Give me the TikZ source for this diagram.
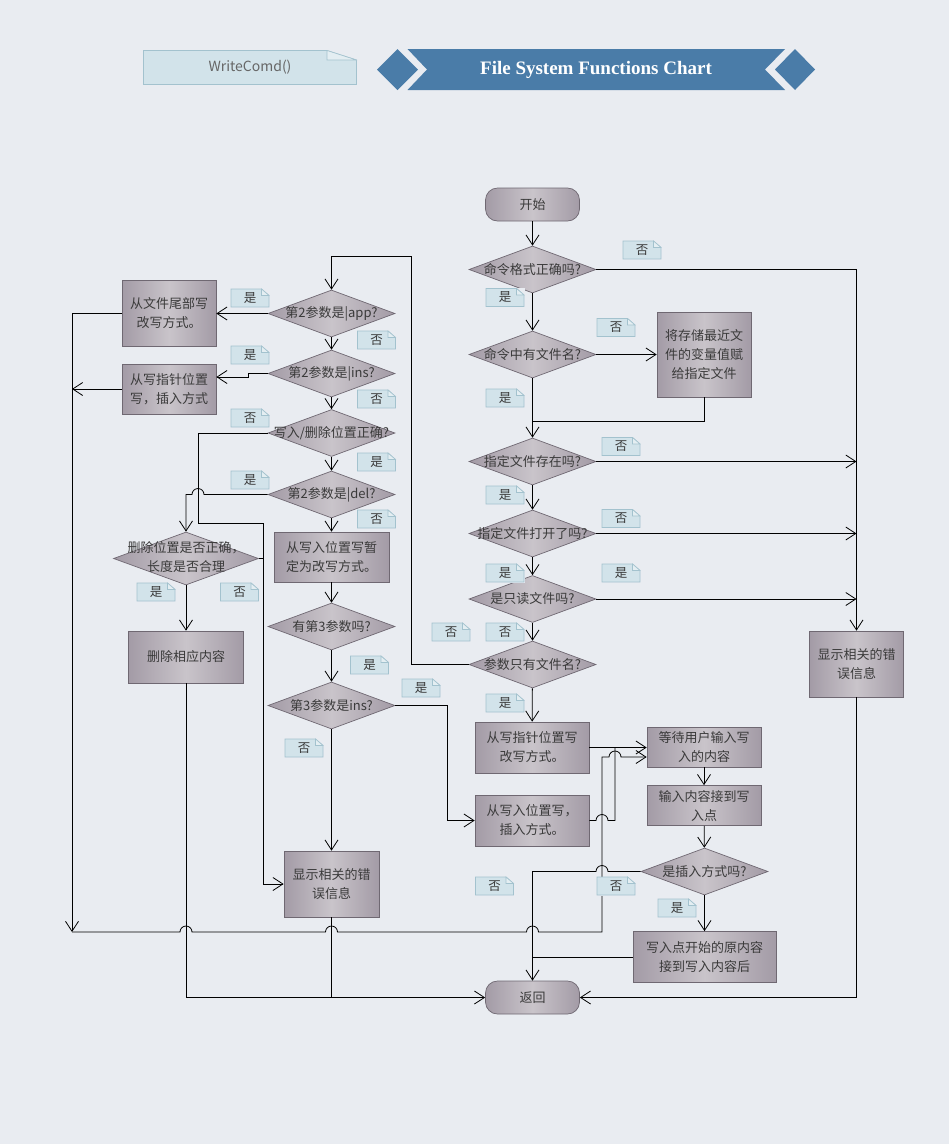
\documentclass[tikz,border=0pt]{standalone}
\usepackage{fontspec}
\setmainfont{Liberation Serif}
\newfontfamily\cjk{Noto Sans CJK SC}
\usetikzlibrary{shapes.geometric,arrows.meta,calc,positioning}

\definecolor{bg}{HTML}{E9ECF1}
\definecolor{boxedge}{HTML}{A39BA6}
\definecolor{boxmid}{HTML}{C9C4CA}
\definecolor{boxline}{HTML}{6F6872}
\definecolor{tagfill}{HTML}{D2E3EA}
\definecolor{tagfold}{HTML}{E4EEF2}
\definecolor{tagline}{HTML}{A3C2CE}
\definecolor{banner}{HTML}{4A7CA8}
\definecolor{txt}{HTML}{3A3A3A}

\newcommand{\dtext}[1]{\makebox[0pt]{#1}}
% bridges where a line jumps over another one
\newcommand{\jumpr}[2]{-- (#1-6,#2) arc[start angle=180,end angle=360,radius=6]}
\newcommand{\jumpl}[2]{-- (#1+6,#2) arc[start angle=0,end angle=-180,radius=6]}

\tikzset{
  box/.style={draw=boxline, line width=0.7pt, left color=boxedge, right color=boxedge, middle color=boxmid,
    text=txt, font=\cjk\fontsize{13}{19}\selectfont, align=center, inner sep=0pt},
  proc/.style={box, rectangle, minimum width=94pt, minimum height=66pt},
  term/.style={box, rounded corners=12pt, minimum width=94pt, minimum height=33pt},
  dec/.style={box, diamond, minimum width=127pt, minimum height=47pt},
  note/.style 2 args={fill=bg, inner sep=0pt, text=txt, font=\cjk\fontsize{12.5}{14}\selectfont,
    path picture={
      \path[fill=tagfill, draw=tagline, line width=0.8pt]
        ([xshift=0.5pt,yshift=0.5pt]path picture bounding box.south west)
        -- ([xshift=0.5pt,yshift=-0.5pt]path picture bounding box.north west)
        -- ([xshift=-#1,yshift=-0.5pt]path picture bounding box.north east)
        -- ([xshift=-0.5pt,yshift=-#2]path picture bounding box.north east)
        -- ([xshift=-0.5pt,yshift=0.5pt]path picture bounding box.south east) -- cycle;
      \path[fill=tagfold, draw=tagline, line width=0.6pt]
        ([xshift=-#1,yshift=-0.5pt]path picture bounding box.north east)
        -- ([xshift=-#1,yshift=-#2]path picture bounding box.north east)
        -- ([xshift=-0.5pt,yshift=-#2]path picture bounding box.north east) -- cycle;
    }},
  tag/.style={note={8pt}{7pt}, minimum width=39pt, minimum height=19pt},
  arr/.style={-{Straight Barb[length=10pt,width=13pt]}},
}

\begin{document}
\begin{tikzpicture}[x=1pt,y=-1pt,line width=0.8pt]
\fill[bg] (0,0) rectangle (949,1144);
\useasboundingbox (0,0) rectangle (949,1144);

% title
\node[note={30pt}{10pt}, minimum width=214pt, minimum height=35pt, text=black!60,
  font=\cjk\fontsize{14}{16}\selectfont] (fn) at (250,67.5) {WriteComd()};
\fill[banner] (377,69.5) -- (397.5,49) -- (418,69.5) -- (397.5,90) -- cycle;
\fill[banner] (407.5,49) -- (785,49) -- (765,69.5) -- (785,90) -- (407.5,90) -- (427,69.5) -- cycle;
\fill[banner] (775,69.5) -- (795,49) -- (815,69.5) -- (795,90) -- cycle;
\node[text=white, font=\bfseries\fontsize{19}{22}\selectfont] (title) at (596,70) {File System Functions Chart};

% right column
\node[term] (start) at (532.5,204.5) {开始};
\node[dec] (d1) at (532.5,269.5) {\dtext{命令格式正确吗?}};
\node[dec] (d2) at (532.5,354.5) {\dtext{命令中有文件名?}};
\node[proc, minimum height=85pt] (b1) at (704,354.5) {将存储最近文\\件的变量值赋\\给指定文件};
\node[dec] (d3) at (532.5,461.5) {\dtext{指定文件存在吗?}};
\node[dec] (d4) at (532.5,533.5) {\dtext{指定文件打开了吗?}};
\node[dec] (d5) at (532.5,599) {\dtext{是只读文件吗?}};
\node[dec] (d6) at (532.5,664.5) {\dtext{参数只有文件名?}};
\node[proc, minimum width=114pt, minimum height=51pt] (b2) at (532,747.5) {从写指针位置写\\改写方式。};
\node[proc, minimum width=114pt, minimum height=51pt] (b3) at (532,820.5) {从写入位置写，\\插入方式。};
\node[proc, minimum width=114pt, minimum height=40pt] (b4) at (704,747) {等待用户输入写\\入的内容};
\node[proc, minimum width=114pt, minimum height=40pt] (b5) at (704,805.5) {输入内容接到写\\入点};
\node[dec] (d7) at (704.5,871.5) {\dtext{是插入方式吗?}};
\node[proc, minimum width=143pt, minimum height=51pt] (b6) at (704.5,957) {写入点开始的原内容\\接到写入内容后};
\node[term] (stop) at (532.5,997.5) {返回};
\node[proc] (e1) at (856.5,664) {显示相关的错\\误信息};

% left columns
\node[dec] (l1) at (331.5,313.5) {\dtext{第2参数是|app?}};
\node[dec] (l2) at (331.5,373.5) {\dtext{第2参数是|ins?}};
\node[dec] (l3) at (331.5,433) {\dtext{写入/删除位置正确?}};
\node[dec] (l4) at (331.5,494.5) {\dtext{第2参数是|del?}};
\node[proc, minimum width=115pt, minimum height=50pt] (l5) at (331.5,557) {从写入位置写暂\\定为改写方式。};
\node[dec] (l6) at (331.5,626.5) {\dtext{有第3参数吗?}};
\node[dec] (l7) at (331.5,705.5) {\dtext{第3参数是ins?}};
\node[proc, minimum width=95pt] (l8) at (331.5,884) {显示相关的错\\误信息};
\node[proc] (a1) at (169,313.5) {从文件尾部写\\改写方式。};
\node[proc, minimum height=50pt] (a2) at (169,389) {从写指针位置\\写，插入方式};
\node[dec, minimum width=145pt, minimum height=53pt] (d8) at (186,558.5)
  {\dtext{\begin{tabular}{@{}c@{}}删除位置是否正确，\\长度是否合理\end{tabular}}};
\node[proc, minimum width=115pt, minimum height=52pt] (a3) at (186,657) {删除相应内容};

% helper points
\coordinate (m) at (532.5,421);
\coordinate (loop) at (411,256);
\coordinate (cl) at (72,932);
\coordinate (c1) at (198,523);
\coordinate (c2) at (263,523);
\coordinate (c3) at (447,820.5);

% connectors, right part
\foreach \a/\b in {start/d1,d1/d2,d2/d3,d3/d4,d4/d5,d5/d6,d6/b2,b4/b5,b5/d7,d7/b6}
  \draw[arr] (\a) -- (\b);
\draw[arr] (d1.east) -| (e1.north);
\draw[arr] (d2) -- (b1);
\draw (b1.south) |- (m);
\foreach \d in {d3,d4,d5}
  \draw[arr] (\d.east) -- (\d.east -| e1.north);
\draw[arr] (d6.west) -| (loop) -| (l1.north);
\draw[arr] (b2.east) -- (b2.east -| b4.west);
\draw (b3.east) \jumpr{602}{820.5} -| (615,747.5);
\draw[arr] (d7.west) \jumpl{602}{871.5} -| (stop.north);
\draw (b6.west) -- (b6.west -| stop.north);
\draw[arr] (e1.south) |- (stop.east);

% connectors, left part
\foreach \a/\b in {l1/l2,l2/l3,l3/l4,l4/l5,l5/l6,l6/l7,l7/l8,d8/a3}
  \draw[arr] (\a) -- (\b);
\draw[arr] (l1.west) -- (a1.east);
\draw[arr] (l2.west) -- (248,373.5) -- (248,377) -- ([yshift=12pt]a2.east);
\draw[arr] (a1.west) -| (cl);
\draw[arr] (a2.west) -- (a2.west -| cl);
\draw[arr] (cl) \jumpr{186}{932} \jumpr{331.5}{932} \jumpr{532.5}{932} -- (602,932) -- (602,757)
  \jumpr{615}{757} -- ([yshift=-10pt]b4.west);
\draw[arr] (l3.west) -| (c1) -- (c2) |- (l8.west);
\draw (d8.east) -- (d8.east -| c2);
\draw[arr] (l4.west) \jumpl{198}{494.5} -| (d8.north);
\draw[arr] (l7.east) -| (c3) -- (b3.west);
\draw[arr] (a3.south) |- (stop.west);
\draw (l8.south) -- (l8.south |- stop.west);

% yes / no tags
\foreach \p/\t [count=\i] in {{642,250}/否,{505,297.5}/是,{616,327.5}/否,{505,398}/是,
  {621,446.5}/否,{505,495}/是,{621,518.5}/否,{505,573}/是,{621,573}/是,{505,632}/否,
  {451,632}/否,{505,703}/是,{421,688}/是,{250,298}/是,{376.5,340}/否,{250,355}/是,
  {376.5,399}/否,{250,418}/否,{376.5,462}/是,{250,480}/是,{376.5,519}/否,{156,592}/是,
  {239.5,592}/否,{369.5,665}/是,{304,748}/否,{494.5,886}/否,{616,886}/否,{677,908}/是}
  \node[tag] (t\i) at (\p) {\t};
\end{tikzpicture}
\end{document}
